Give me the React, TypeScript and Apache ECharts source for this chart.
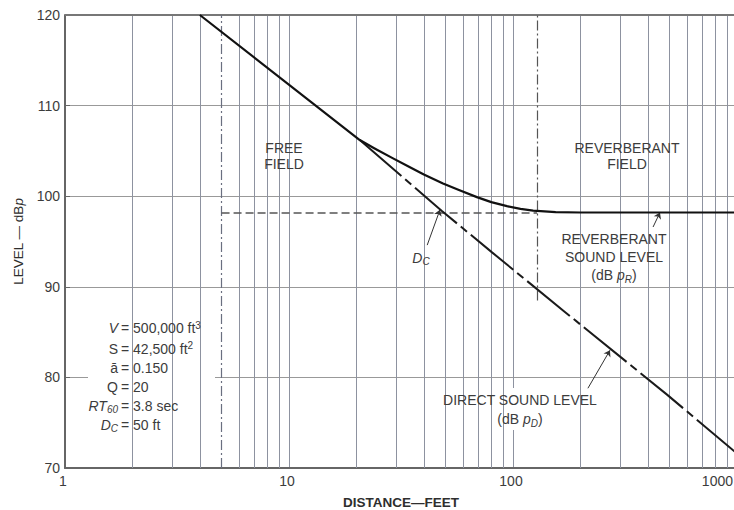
import React, { useEffect, useRef } from 'react';
import * as echarts from 'echarts';

// ---- data ----
const yTicks = [70, 80, 90, 100, 110, 120];
const xMin = 1;
const xMax = 1000;
// intermediate vertical grid lines (2..9 of each decade)
const minorGridX = [2, 3, 4, 5, 6, 7, 8, 9, 20, 30, 40, 50, 60, 70, 80, 90, 200, 300, 400, 500, 600, 700, 800, 900];

// total sound level (solid curve)
const totalX = [4, 20.7, 24, 29, 34, 40, 48.7, 57, 69, 80, 94, 108, 123, 155, 200, 1000];
const totalY = [120, 106.2, 105.3, 104.2, 103.3, 102.4, 101.4, 100.7, 99.9, 99.35, 98.9, 98.6, 98.4, 98.25, 98.2, 98.2];

// direct sound level continuation (dash-dot)
const directX = [20.7, 48, 80.6, 171, 487, 1000];
const directY = [106.2, 98.4, 93.8, 87.2, 78.1, 71.6];

const reverbLevel = 98.2;
const freeFieldBoundary = 5;
const reverbFieldBoundary = 128;
const reverbBoundaryBottom = 88.5;

// leader lines [from, to]
const dcLeader = [[41.4, 94.6], [47.2, 98.5]];
const reverbLeader = [[422, 96.6], [453, 98.2]];
const directLeader = [[216, 78.8], [271, 83.0]];

const FONT = '"Liberation Sans", Arial, Helvetica, sans-serif';
const TXT = '#3c3c3c';

const subStyle = { fontSize: 10, fontStyle: 'italic', fontFamily: FONT, color: TXT, lineHeight: 9, padding: [10, 0, 0, 0], verticalAlign: 'bottom' };
const itStyle = { fontSize: 14, fontStyle: 'italic', fontFamily: FONT, color: TXT };
const supStyle = { fontSize: 10, fontFamily: FONT, color: TXT, lineHeight: 10, padding: [0, 0, 8, 0], verticalAlign: 'top' };

export default function App() {
  const ref = useRef<HTMLDivElement>(null);
  useEffect(() => {
    if (!ref.current) return;
    const chart = echarts.init(ref.current, undefined, { renderer: 'svg' });

    const txt = (x: number, y: number, text: string, extra: any = {}) => ({
      type: 'text',
      x,
      y,
      z: 20,
      style: {
        text,
        font: `14px ${FONT}`,
        fill: TXT,
        align: extra.align || 'center',
        verticalAlign: 'middle',
        lineHeight: extra.lineHeight || 16,
        rich: { sub: subStyle, it: itStyle, sup: supStyle },
      },
    });

    const whiteRect = (x: number, y: number, w: number, h: number) => ({
      type: 'rect',
      z: 5,
      shape: { x, y, width: w, height: h },
      style: { fill: '#ffffff' },
    });

    const params: [string, string][] = [
      ['{it|V}', '= 500,000 ft{sup|3}'],
      ['S', '= 42,500 ft{sup|2}'],
      ['ā', '= 0.150'],
      ['Q', '= 20'],
      ['{it|RT}{sub|60}', '= 3.8 sec'],
      ['{it|D}{sub|C}', '= 50 ft'],
    ];
    const paramY = [328, 348.5, 368, 387, 406, 425];
    const paramGraphics: any[] = [];
    params.forEach((p, i) => {
      paramGraphics.push(txt(118, paramY[i], p[0], { align: 'right' }));
      paramGraphics.push(txt(121, paramY[i], p[1], { align: 'left' }));
    });

    chart.setOption({
      animation: false,
      backgroundColor: '#ffffff',
      grid: { left: 65, right: -3, top: 15, bottom: 42, outerBoundsMode: 'none', containLabel: false },
      xAxis: {
        type: 'log',
        logBase: 10,
        min: xMin,
        max: xMax,
        name: 'DISTANCE—FEET',
        nameLocation: 'middle',
        nameGap: 27,
        nameTextStyle: { fontFamily: FONT, fontSize: 13.5, fontWeight: 'bold', color: '#2e2e2e' },
        axisLine: { onZero: false, lineStyle: { color: '#666', width: 2 } },
        axisTick: { show: false },
        axisLabel: {
          fontFamily: FONT, fontSize: 14, color: TXT, margin: 6,
          formatter: (v: number) => String(Math.round(v)),
          alignMaxLabel: 'right',
          padding: [0, 4, 0, 0],
        },
        splitLine: { show: true, lineStyle: { color: '#8d92a0', width: 1 } },
        minorTick: { show: false },
        minorSplitLine: { show: false },
      },
      yAxis: {
        type: 'value',
        min: yTicks[0],
        max: yTicks[yTicks.length - 1],
        interval: 10,
        name: 'LEVEL — dB{it|p}',
        nameLocation: 'middle',
        nameGap: 40,
        nameRotate: 90,
        nameTextStyle: {
          fontFamily: FONT, fontSize: 13.5, color: '#2e2e2e',
          rich: { it: { fontFamily: FONT, fontSize: 13.5, fontStyle: 'italic', color: '#2e2e2e' } },
        },
        axisLine: { show: true, onZero: false, lineStyle: { color: '#666', width: 2 } },
        axisTick: { show: true, inside: true, length: 5, lineStyle: { color: '#666' } },
        axisLabel: { fontFamily: FONT, fontSize: 14, color: TXT, margin: 5 },
        splitLine: { show: true, lineStyle: { color: '#999', width: 1 } },
      },
      series: [
        {
          type: 'line',
          name: 'grid',
          z: 1,
          data: [[1, 70]],
          showSymbol: false,
          lineStyle: { opacity: 0 },
          silent: true,
          markLine: {
            silent: true,
            symbol: 'none',
            label: { show: false },
            animation: false,
            data: [
              ...minorGridX
                .filter((v) => v !== freeFieldBoundary)
                .map((v) => ({ xAxis: v, lineStyle: { color: '#8d92a0', width: 1, type: 'solid' } })),
              { yAxis: yTicks[yTicks.length - 1], lineStyle: { color: '#777', width: 2, type: 'solid' } },
            ],
          },
        },
        {
          type: 'line',
          name: 'boundaries',
          z: 2,
          data: [[1, 70]],
          showSymbol: false,
          lineStyle: { opacity: 0 },
          silent: true,
          markLine: {
            silent: true,
            symbol: 'none',
            label: { show: false },
            animation: false,
            data: [
              [
                { coord: [freeFieldBoundary, yTicks[0]], lineStyle: { color: '#6a6f80', width: 1.2, type: [10, 3, 2, 3] } },
                { coord: [freeFieldBoundary, yTicks[yTicks.length - 1]] },
              ],
              [
                { coord: [reverbFieldBoundary, reverbBoundaryBottom], lineStyle: { color: '#555', width: 1.2, type: [10, 3, 2, 3] } },
                { coord: [reverbFieldBoundary, yTicks[yTicks.length - 1]] },
              ],
              [
                { coord: [freeFieldBoundary, reverbLevel], lineStyle: { color: '#555', width: 1.5, type: [8, 4] } },
                { coord: [reverbFieldBoundary, reverbLevel] },
              ],
            ],
          },
        },
        {
          type: 'line',
          name: 'Direct sound level',
          z: 6,
          data: directX.map((x, i) => [x, directY[i]]),
          showSymbol: false,
          lineStyle: { color: '#1a1a1a', width: 2, type: [55, 5, 8, 5] },
          markLine: {
            silent: true,
            symbol: ['none', 'arrow'],
            symbolSize: 6,
            label: { show: false },
            animation: false,
            lineStyle: { color: '#333', width: 1, type: 'solid' },
            data: [
              [{ coord: dcLeader[0] }, { coord: dcLeader[1] }],
              [{ coord: reverbLeader[0] }, { coord: reverbLeader[1] }],
              [{ coord: directLeader[0] }, { coord: directLeader[1] }],
            ],
          },
        },
        {
          type: 'line',
          name: 'Total level',
          z: 7,
          data: totalX.map((x, i) => [x, totalY[i]]),
          showSymbol: false,
          smooth: false,
          lineStyle: { color: '#111', width: 2.2, join: 'round' },
        },
      ],
      graphic: [
        whiteRect(88, 315, 127, 122),
        whiteRect(432, 388, 176, 42),
        whiteRect(568, 136, 120, 37),
        whiteRect(555, 228, 116, 59),
        txt(284, 155.5, 'FREE\nFIELD', { lineHeight: 16 }),
        txt(627, 155.5, 'REVERBERANT\nFIELD', { lineHeight: 16 }),
        txt(614, 257, 'REVERBERANT\nSOUND LEVEL\n(dB {it|p}{sub|R})', { lineHeight: 18 }),
        txt(520, 409, 'DIRECT SOUND LEVEL\n(dB {it|p}{sub|D})', { lineHeight: 19 }),
        txt(421, 258, '{it|D}{sub|C}'),
        ...paramGraphics,
      ],
    });
    return () => chart.dispose();
  }, []);
  return (
    <div
      ref={ref}
      style={{ position: 'fixed', left: 0, top: 0, width: 734, height: 510, background: '#fff' }}
    />
  );
}
